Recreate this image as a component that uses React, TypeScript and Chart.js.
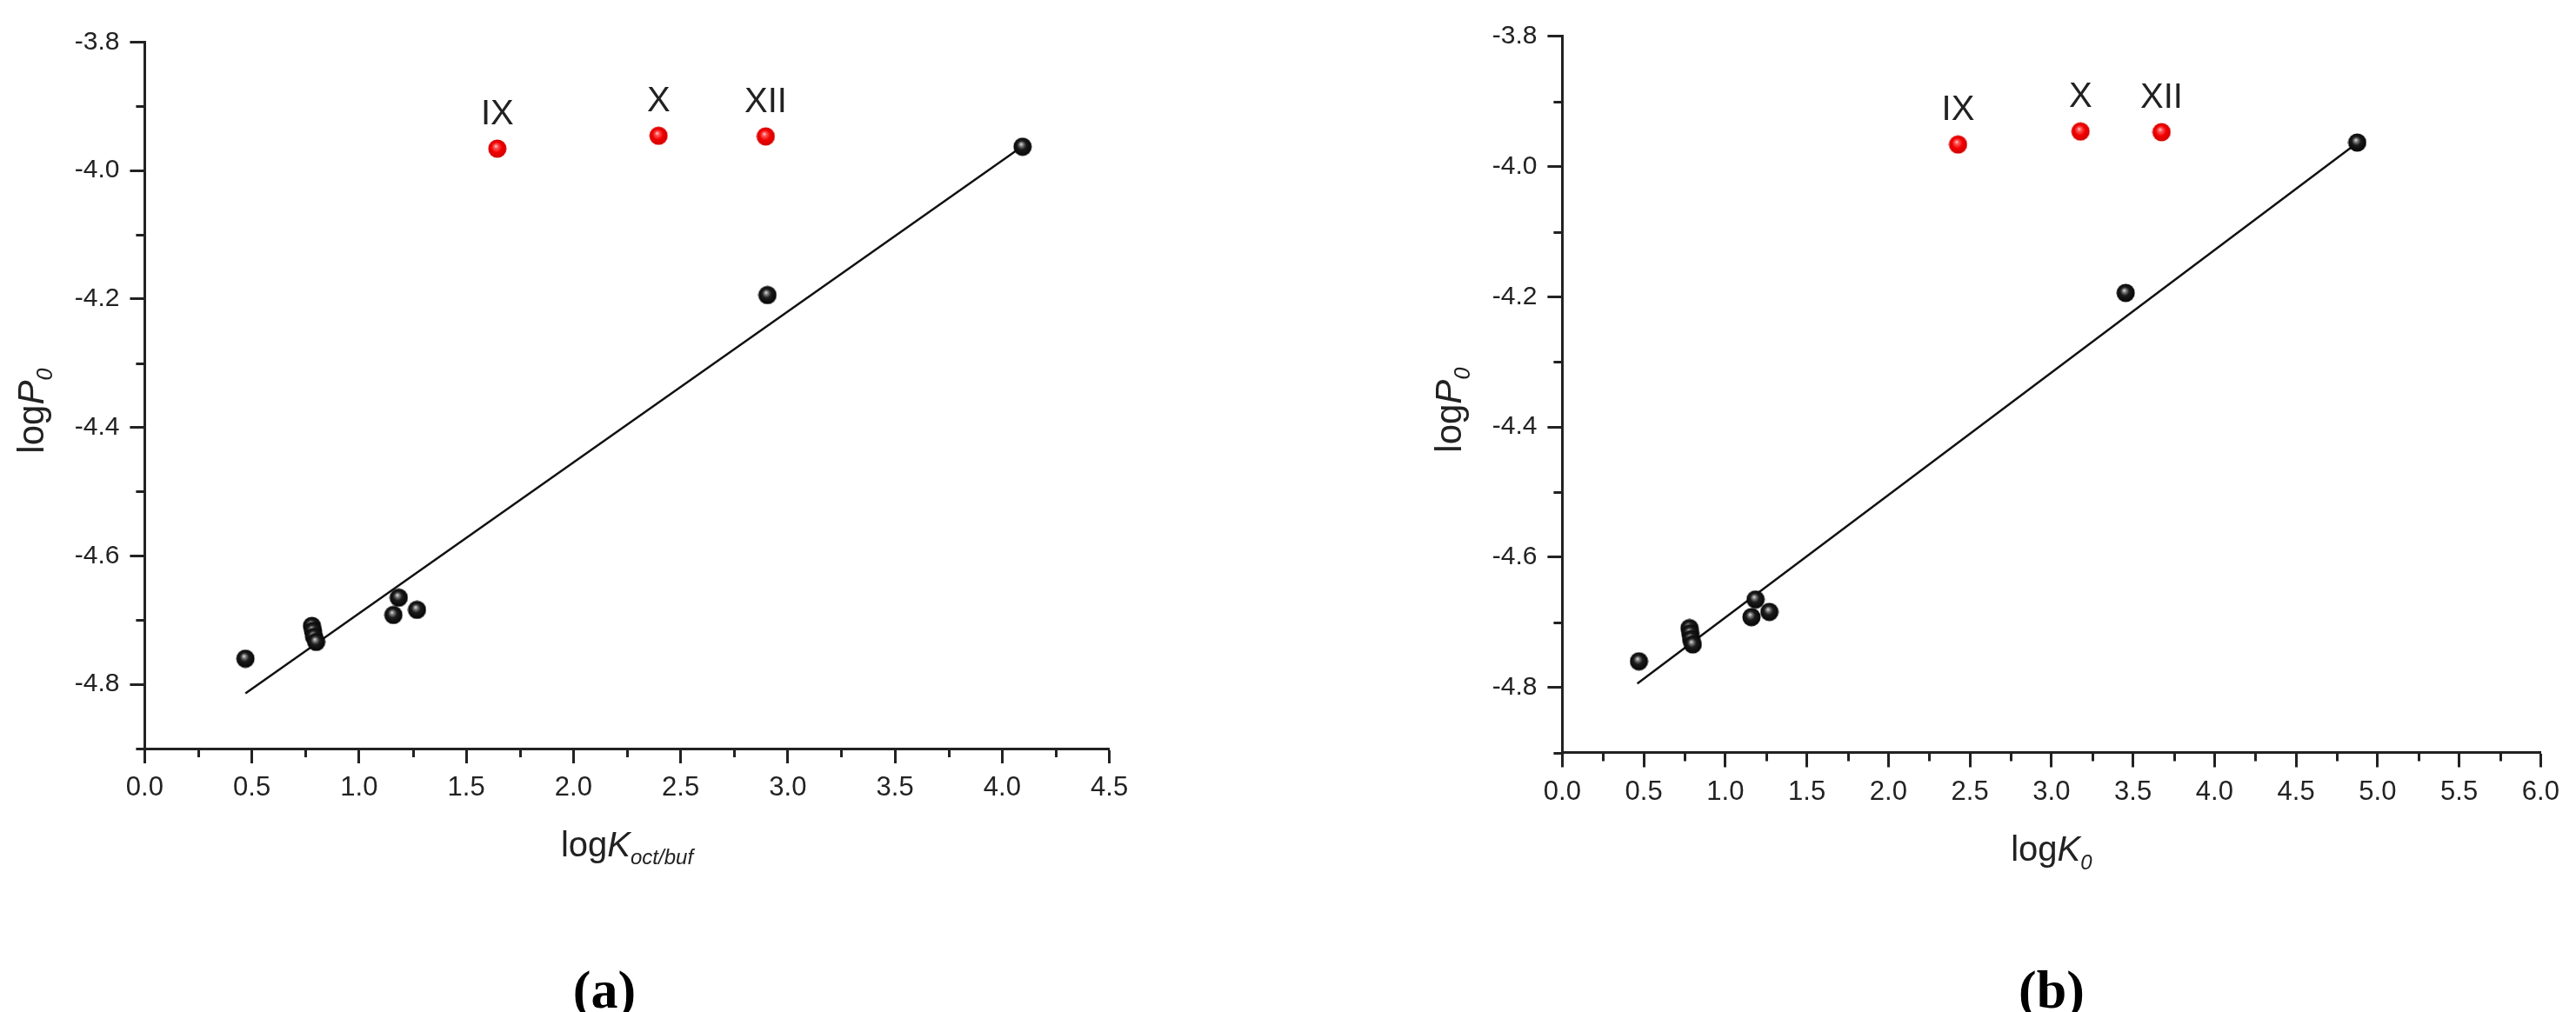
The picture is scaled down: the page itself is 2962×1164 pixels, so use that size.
import React, { useEffect, useRef } from "react";
import { Chart, registerables } from "chart.js";
Chart.register(...registerables);

// ---- data ----
const logP0Black = [-4.760, -4.709, -4.717, -4.726, -4.734, -4.665, -4.692, -4.684, -4.194, -3.963];
const logKoctBufBlack = [0.47, 0.78, 0.785, 0.79, 0.80, 1.185, 1.16, 1.27, 2.905, 4.095];
const logK0Black = [0.47, 0.78, 0.785, 0.79, 0.80, 1.185, 1.16, 1.27, 3.455, 4.875];

const redLabels = ["IX", "X", "XII"];
const logP0Red = [-3.966, -3.946, -3.947];
const logKoctBufRed = [1.645, 2.397, 2.897];
const logK0Red = [2.427, 3.178, 3.675];

const fitAX = [0.47, 4.07];
const fitAY = [-4.814, -3.968];
const fitBX = [0.46, 4.84];
const fitBY = [-4.794, -3.97];

const yAxisTicks = { min: -4.9, max: -3.8, step: 0.1, major: 0.2 };
const xAxisTicksA = { min: 0, max: 4.5, step: 0.25, major: 0.5 };
const xAxisTicksB = { min: 0, max: 6.0, step: 0.25, major: 0.5 };

const FONT = '"Liberation Sans", Arial, Helvetica, sans-serif';
const INK = "#222";

function isMajor(v: number, major: number) {
  const r = v / major;
  return Math.abs(r - Math.round(r)) < 1e-6;
}

function makeBall(kind: "black" | "red", d = 22) {
  const c = document.createElement("canvas");
  c.width = d;
  c.height = d;
  const g = c.getContext("2d")!;
  const grad = g.createRadialGradient(d * 0.42, d * 0.36, 0, d * 0.5, d * 0.5, d * 0.55);
  if (kind === "black") {
    grad.addColorStop(0, "#f0f0f0");
    grad.addColorStop(0.16, "#888");
    grad.addColorStop(0.42, "#1c1c1c");
    grad.addColorStop(1, "#000");
  } else {
    grad.addColorStop(0, "#ffe6e6");
    grad.addColorStop(0.18, "#ff5a5a");
    grad.addColorStop(0.5, "#f20000");
    grad.addColorStop(1, "#c80000");
  }
  g.fillStyle = grad;
  g.beginPath();
  g.arc(d / 2, d / 2, d / 2 - 0.5, 0, Math.PI * 2);
  g.fill();
  return c;
}

type Part = { t: string; f: string; dy?: number };

function drawRich(ctx: CanvasRenderingContext2D, parts: Part[], cx: number, baseline: number) {
  let total = 0;
  for (const p of parts) {
    ctx.font = p.f;
    total += ctx.measureText(p.t).width;
  }
  let x = cx - total / 2;
  ctx.textAlign = "left";
  ctx.textBaseline = "alphabetic";
  for (const p of parts) {
    ctx.font = p.f;
    ctx.fillText(p.t, x, baseline + (p.dy || 0));
    x += ctx.measureText(p.t).width;
  }
}

type Panel = {
  w: number;
  h: number;
  area: { left: number; top: number; right: number; bottom: number };
  xs: number[];
  xsRed: number[];
  fitX: number[];
  fitY: number[];
  xTicks: { min: number; max: number; step: number; major: number };
  xTitle: Part[];
};

const XH = 100;

function buildChart(canvas: HTMLCanvasElement, p: Panel) {
  const black = makeBall("black");
  const red = makeBall("red");

  const minorTicks = {
    id: "minorTicks",
    afterDraw(chart: any) {
      const ctx = chart.ctx as CanvasRenderingContext2D;
      const a = chart.chartArea;
      ctx.save();
      ctx.strokeStyle = INK;
      ctx.lineWidth = 3;
      const xs = chart.scales.x;
      for (const t of xs.ticks) {
        if (isMajor(t.value, p.xTicks.major)) continue;
        const px = Math.round(xs.getPixelForValue(t.value)) + 0.5;
        ctx.beginPath();
        ctx.moveTo(px, a.bottom);
        ctx.lineTo(px, a.bottom + 10);
        ctx.stroke();
      }
      const ys = chart.scales.y;
      for (const t of ys.ticks) {
        if (isMajor(t.value, yAxisTicks.major)) continue;
        const py = Math.round(ys.getPixelForValue(t.value)) + 0.5;
        ctx.beginPath();
        ctx.moveTo(a.left - 10, py);
        ctx.lineTo(a.left, py);
        ctx.stroke();
      }
      ctx.restore();
    },
  };

  const pointLabels = {
    id: "pointLabels",
    afterDatasetsDraw(chart: any) {
      const ctx = chart.ctx as CanvasRenderingContext2D;
      const meta = chart.getDatasetMeta(1);
      ctx.save();
      ctx.fillStyle = INK;
      ctx.font = `40px ${FONT}`;
      ctx.textAlign = "center";
      ctx.textBaseline = "middle";
      meta.data.forEach((el: any, i: number) => {
        ctx.fillText(redLabels[i], el.x, el.y - 39);
      });
      ctx.restore();
    },
  };

  const axisTitles = {
    id: "axisTitles",
    afterDraw(chart: any) {
      const ctx = chart.ctx as CanvasRenderingContext2D;
      const a = chart.chartArea;
      ctx.save();
      ctx.fillStyle = INK;
      drawRich(ctx, p.xTitle, (a.left + a.right) / 2, a.bottom + 124);
      ctx.translate(a.left - 116, (a.top + a.bottom) / 2 + 18);
      ctx.rotate(-Math.PI / 2);
      drawRich(
        ctx,
        [
          { t: "log", f: `42px ${FONT}` },
          { t: "P", f: `italic 42px ${FONT}` },
          { t: "0", f: `italic 25px ${FONT}`, dy: 10 },
        ],
        0,
        0
      );
      ctx.restore();
    },
  };

  const tickColor = (major: number) => (c: any) =>
    c.tick && isMajor(c.tick.value, major) ? INK : "rgba(0,0,0,0)";

  return new Chart(canvas, {
    type: "scatter",
    data: {
      datasets: [
        {
          data: p.xs.map((x, i) => ({ x, y: logP0Black[i] })),
          pointStyle: black as any,
          pointRadius: 11,
          order: 0,
        },
        {
          data: p.xsRed.map((x, i) => ({ x, y: logP0Red[i] })),
          pointStyle: red as any,
          pointRadius: 11,
          order: 0,
        },
        {
          data: p.fitX.map((x, i) => ({ x, y: p.fitY[i] })),
          showLine: true,
          borderColor: "#111",
          borderWidth: 2.5,
          pointRadius: 0,
          order: 2,
        } as any,
      ],
    },
    options: {
      responsive: false,
      animation: false,
      events: [],
      layout: {
        padding: {
          left: 0,
          top: p.area.top,
          right: p.w - p.area.right,
          bottom: p.h - p.area.bottom - XH,
        },
      },
      plugins: { legend: { display: false }, tooltip: { enabled: false } },
      scales: {
        x: {
          type: "linear",
          min: p.xTicks.min,
          max: p.xTicks.max,
          afterFit: (s: any) => {
            s.height = XH;
          },
          ticks: {
            stepSize: p.xTicks.step,
            autoSkip: false,
            maxRotation: 0,
            minRotation: 0,
            padding: 10,
            color: INK,
            font: { family: FONT, size: 31 },
            callback: (v: any) => (isMajor(Number(v), p.xTicks.major) ? Number(v).toFixed(1) : ""),
          },
          grid: {
            drawOnChartArea: false,
            drawTicks: true,
            tickLength: 17,
            tickWidth: 3,
            tickColor: tickColor(p.xTicks.major),
          },
          border: { display: true, color: INK, width: 3 },
        },
        y: {
          type: "linear",
          min: yAxisTicks.min,
          max: yAxisTicks.max,
          afterFit: (s: any) => {
            s.width = p.area.left;
          },
          ticks: {
            stepSize: yAxisTicks.step,
            autoSkip: false,
            padding: 12,
            color: INK,
            font: { family: FONT, size: 30 },
            callback: (v: any) => (isMajor(Number(v), yAxisTicks.major) ? Number(v).toFixed(1) : ""),
          },
          grid: {
            drawOnChartArea: false,
            drawTicks: true,
            tickLength: 17,
            tickWidth: 3,
            tickColor: tickColor(yAxisTicks.major),
          },
          border: { display: true, color: INK, width: 3 },
        },
      },
    },
    plugins: [minorTicks, pointLabels, axisTitles],
  } as any);
}

const panelA: Panel = {
  w: 1480,
  h: 1100,
  area: { left: 166.4, top: 48.3, right: 1275.6, bottom: 861 },
  xs: logKoctBufBlack,
  xsRed: logKoctBufRed,
  fitX: fitAX,
  fitY: fitAY,
  xTicks: xAxisTicksA,
  xTitle: [
    { t: "log", f: `40px ${FONT}` },
    { t: "K", f: `italic 40px ${FONT}` },
    { t: "oct/buf", f: `italic 24px ${FONT}`, dy: 9 },
  ],
};

const panelB: Panel = {
  w: 1482,
  h: 1100,
  area: { left: 316.4, top: 41.9, right: 1441.4, bottom: 865.5 },
  xs: logK0Black,
  xsRed: logK0Red,
  fitX: fitBX,
  fitY: fitBY,
  xTicks: xAxisTicksB,
  xTitle: [
    { t: "log", f: `40px ${FONT}` },
    { t: "K", f: `italic 40px ${FONT}` },
    { t: "0", f: `italic 24px ${FONT}`, dy: 10 },
  ],
};

export default function App() {
  const refA = useRef<HTMLCanvasElement>(null);
  const refB = useRef<HTMLCanvasElement>(null);

  useEffect(() => {
    const a = buildChart(refA.current!, panelA);
    const b = buildChart(refB.current!, panelB);
    return () => {
      a.destroy();
      b.destroy();
    };
  }, []);

  const caption: React.CSSProperties = {
    position: "absolute",
    top: 1106,
    width: 200,
    textAlign: "center",
    fontFamily: '"Liberation Serif", "Times New Roman", serif',
    fontWeight: "bold",
    fontSize: 62,
    lineHeight: "64px",
    color: "#000",
  };

  return (
    <div
      style={{
        position: "absolute",
        left: 0,
        top: 0,
        width: 2962,
        height: 1164,
        background: "#fff",
        overflow: "hidden",
      }}
    >
      <canvas ref={refA} width={1480} height={1100} style={{ position: "absolute", left: 0, top: 0 }} />
      <canvas ref={refB} width={1482} height={1100} style={{ position: "absolute", left: 1480, top: 0 }} />
      <div style={{ ...caption, left: 595 }}>(a)</div>
      <div style={{ ...caption, left: 2259 }}>(b)</div>
    </div>
  );
}
